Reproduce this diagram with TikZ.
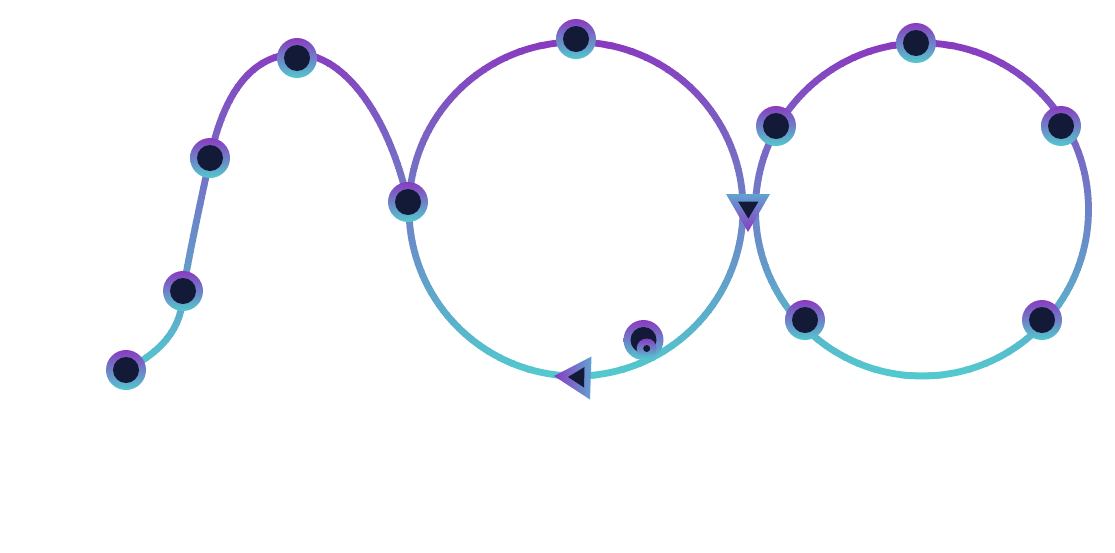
\documentclass[tikz,border=0pt]{standalone}
\definecolor{cpurple}{RGB}{138,58,192}
\definecolor{cteal}{RGB}{82,201,206}
\definecolor{cblue}{RGB}{98,162,210}
\definecolor{cnavy}{RGB}{18,26,56}
\def\trackpath{(126,-370) .. controls (160,-352) and (183,-330) .. (183,-291)
  .. controls (190,-250) and (202,-195) .. (210,-158)
  .. controls (225,-88) and (255,-54) .. (297,-54)
  .. controls (346,-54) and (390,-120) .. (408,-202)
  (576,-209) circle[radius=167]
  (922,-209.5) circle[radius=166.5]}
\tikzset{
  bigdot/.style={circle, inner sep=0pt, minimum size=40pt, top color=cpurple, bottom color=cteal,
    path picture={\fill[cnavy] (path picture bounding box.center) circle[radius=13];}},
  smalldot/.style={circle, inner sep=0pt, minimum size=20pt, top color=cpurple, bottom color=cteal,
    path picture={\fill[cnavy] (path picture bounding box.center) circle[radius=3.5];}},
  track/.style={line width=6.8pt}
}
\begin{document}
\begin{tikzpicture}[x=1pt,y=1pt]
\useasboundingbox (0,0) rectangle (1115,-552);
\fill[white] (0,0) rectangle (1115,-552);
% gradient stroke built from horizontal strips
\foreach \i in {0,...,59}{
  \pgfmathsetmacro\ya{30+\i*6}
  \pgfmathsetmacro\yb{\ya+6.8}
  \pgfmathsetmacro\pc{min(100,max(0,(\ya+3-42)/334*100))}
  \begin{scope}
    \clip (0,-\ya) rectangle (1115,-\yb);
    \draw[track, color=cteal!\pc!cpurple] \trackpath;
  \end{scope}
}
% dots
\node[bigdot] (a1) at (126,-370) {};
\node[bigdot] (a2) at (183,-291) {};
\node[bigdot] (a3) at (210,-158) {};
\node[bigdot] (a4) at (297,-58) {};
\node[bigdot] (a5) at (408,-202) {};
\node[bigdot] (b1) at (576,-39) {};
\node[bigdot] (b2) at (643.5,-340) {};
\node[smalldot] (b3) at (646.7,-348.5) {};
\node[bigdot] (c1) at (916,-43) {};
\node[bigdot] (c2) at (776,-126) {};
\node[bigdot] (c3) at (1061,-126) {};
\node[bigdot] (c4) at (805,-320) {};
\node[bigdot] (c5) at (1042,-320) {};
% direction markers
\shade[left color=cpurple, right color=cblue] (554,-376) -- (591.5,-356.5) -- (590,-399.5) -- cycle;
\fill[cnavy] (568,-377) -- (584.5,-367) -- (584,-387.5) -- cycle;
\shade[top color=cblue, bottom color=cpurple] (726,-194) -- (770,-194) -- (748,-232) -- cycle;
\fill[cnavy] (738,-201.5) -- (758.5,-201.5) -- (748.3,-218.5) -- cycle;
\end{tikzpicture}
\end{document}
